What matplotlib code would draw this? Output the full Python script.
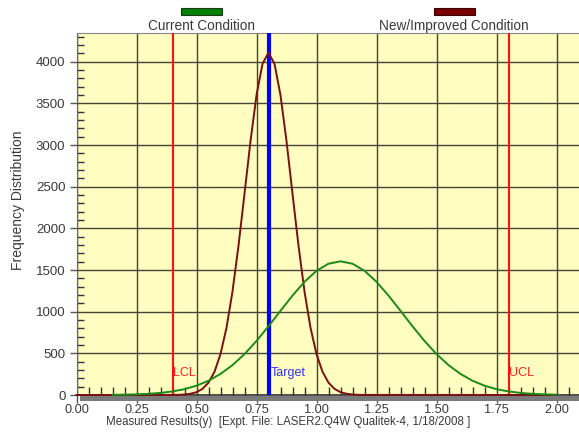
import matplotlib
matplotlib.use("Agg")
import matplotlib.pyplot as plt
from matplotlib.patches import Rectangle
from matplotlib.ticker import MultipleLocator, FormatStrFormatter

plt.rcParams['font.family'] = ['Liberation Sans', 'DejaVu Sans']

# ---- data ----
legend_labels = ["Current Condition", "New/Improved Condition"]

current_x = [0.15, 0.20, 0.25, 0.30, 0.35, 0.40, 0.45, 0.50, 0.55, 0.60, 0.65,
             0.70, 0.75, 0.80, 0.85, 0.90, 0.95, 1.00, 1.05, 1.10, 1.15,
             1.20, 1.25, 1.30, 1.35, 1.40, 1.45, 1.50, 1.55, 1.60, 1.65,
             1.70, 1.75, 1.80, 1.85, 1.90, 1.95, 2.00]
current_y = [2, 4, 8, 14, 25, 43, 70, 112, 171, 253, 359,
             491, 649, 825, 1011, 1194, 1359, 1491, 1576, 1605, 1576,
             1491, 1359, 1194, 1011, 825, 649, 491, 359, 253, 171,
             112, 70, 43, 25, 14, 8, 4]

new_x = [0.0, 0.400, 0.425, 0.450, 0.475, 0.500, 0.525, 0.550, 0.575, 0.600,
         0.625, 0.650, 0.675, 0.700, 0.725, 0.750, 0.775, 0.800, 0.825,
         0.850, 0.875, 0.900, 0.925, 0.950, 0.975, 1.000, 1.025, 1.050,
         1.075, 1.100, 1.125, 1.150, 1.175, 1.200, 2.0]
new_y = [0, 1, 2, 6, 15, 34, 74, 148, 279, 491,
         807, 1243, 1792, 2416, 3048, 3599, 3976, 4110, 3976,
         3599, 3048, 2416, 1792, 1243, 807, 491, 279, 148,
         74, 34, 15, 6, 2, 1, 0]

lcl, target, ucl = 0.40, 0.80, 1.80
ref_labels = ["LCL", "Target", "UCL"]

x_ticks = [0.00, 0.25, 0.50, 0.75, 1.00, 1.25, 1.50, 1.75, 2.00]
y_ticks = [0, 500, 1000, 1500, 2000, 2500, 3000, 3500, 4000]

x_label = "Measured Results(y)  [Expt. File: LASER2.Q4W Qualitek-4, 1/18/2008 ]"
y_label = "Frequency Distribution"

# ---- figure ----
W, H = 579, 443
fig = plt.figure(figsize=(W / 100, H / 100), dpi=100)
fig.patch.set_facecolor('white')

x0_px, top_px, base_px = 76.5, 33, 395
ax = fig.add_axes([x0_px / W, (H - base_px) / H, (W - x0_px) / W, (base_px - top_px) / H])
ax.set_facecolor('#FFFDC0')
ax.set_xlim(0, (W - x0_px) / 240.0)
ax.set_ylim(0, (base_px - top_px) / 83.3 * 1000)

# shadow band under the bottom axis
fig.patches.append(Rectangle((80 / W, (H - 400.5) / H), 1 - 80 / W, 5 / H,
                             transform=fig.transFigure, facecolor='#7a7a7a',
                             edgecolor='none', zorder=0))

ax.set_xticks(x_ticks)
ax.set_yticks(y_ticks)
ax.xaxis.set_major_formatter(FormatStrFormatter('%.2f'))
ax.xaxis.set_minor_locator(MultipleLocator(0.05))
ax.yaxis.set_minor_locator(MultipleLocator(100))
ax.grid(True, which='major', color='#44443a', linewidth=1.0)
ax.set_axisbelow(True)

ax.tick_params(axis='both', which='major', direction='out', width=1,
               color='#555555', labelcolor='#3a3a3a')
ax.tick_params(axis='x', which='major', length=6, pad=0.5, labelsize=9.2)
ax.tick_params(axis='y', which='major', length=5, pad=3, labelsize=9.5)
ax.tick_params(axis='x', which='minor', direction='in', length=6, width=1,
               color='#333333')
ax.tick_params(axis='y', which='minor', direction='in', length=5, width=1,
               color='#333333')

ax.spines['right'].set_visible(False)
ax.spines['top'].set_color('#888888')
ax.spines['left'].set_color('#666666')
ax.spines['bottom'].set_color('#333333')
ax.spines['bottom'].set_linewidth(1.2)

# reference lines
ax.axvline(lcl, color='#ff1010', linewidth=1.5, zorder=3)
ax.axvline(ucl, color='#ff1010', linewidth=1.5, zorder=3)
ax.axvline(target, color='#0000ff', linewidth=3, zorder=3)

ax.text(lcl + 0.003, 270, ref_labels[0], color='#ff2020', fontsize=9,
        va='center', ha='left', zorder=4)
ax.text(target + 0.008, 270, ref_labels[1], color='#3030ff', fontsize=9,
        va='center', ha='left', zorder=4)
ax.text(ucl + 0.003, 270, ref_labels[2], color='#ff2020', fontsize=9,
        va='center', ha='left', zorder=4)

# curves
ax.plot(new_x, new_y, color='#7a1010', linewidth=1.4, zorder=5,
        clip_on=False)
ax.plot(current_x, current_y, color='#1a8a1a', linewidth=1.4, zorder=6,
        clip_on=False)

# legend (top)
fig.patches.append(Rectangle((181 / W, (H - 14.5) / H), 41 / W, 7 / H,
                             transform=fig.transFigure, facecolor='#008000',
                             edgecolor='#1a3a1a', linewidth=0.8))
fig.patches.append(Rectangle((434 / W, (H - 14.5) / H), 41 / W, 7 / H,
                             transform=fig.transFigure, facecolor='#7a0000',
                             edgecolor='#3a0000', linewidth=0.8))
fig.text(201 / W, (H - 26) / H, legend_labels[0], ha='center', va='center',
         fontsize=9.8, color='#3a3a3a')
fig.text(454 / W, (H - 26) / H, legend_labels[1], ha='center', va='center',
         fontsize=9.8, color='#3a3a3a')

# axis labels
fig.text(18 / W, (H - 200) / H, y_label, rotation=90, ha='center',
         va='center', fontsize=10, color='#3a3a3a')
fig.text(288 / W, (H - 422) / H, x_label, ha='center', va='center',
         fontsize=8.3, color='#3a3a3a')

fig.savefig('out.png', dpi=100)
